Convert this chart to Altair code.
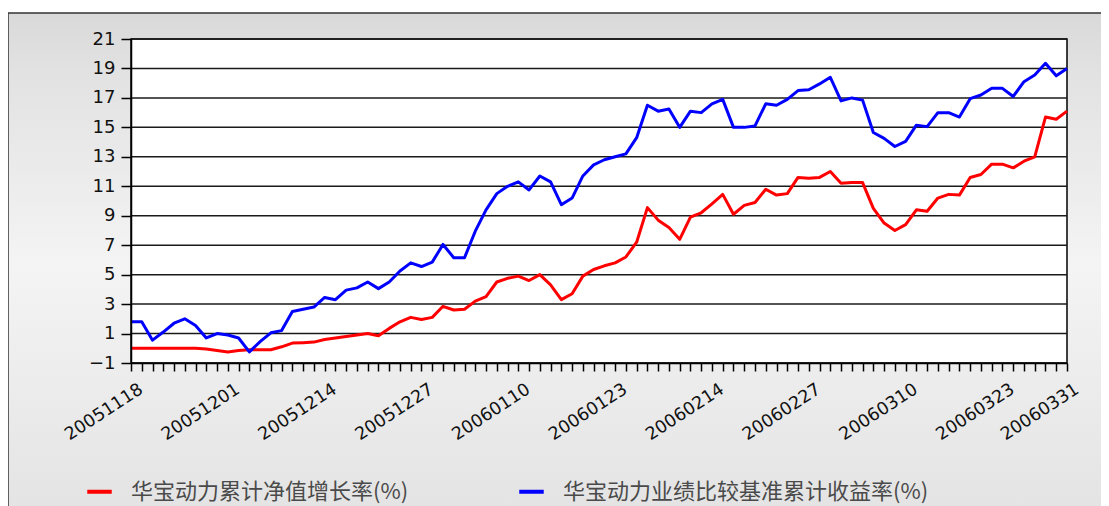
import altair as alt
import pandas as pd

dates = [
    "20051118", "20051121", "20051122", "20051123", "20051124", "20051125", "20051128", "20051129", "20051130",
    "20051201", "20051202", "20051205", "20051206", "20051207", "20051208", "20051209", "20051212", "20051213",
    "20051214", "20051215", "20051216", "20051219", "20051220", "20051221", "20051222", "20051223", "20051226",
    "20051227", "20051228", "20051229", "20051230", "20051231", "20060104", "20060105", "20060106", "20060109",
    "20060110", "20060111", "20060112", "20060113", "20060116", "20060117", "20060118", "20060119", "20060120",
    "20060123", "20060124", "20060125", "20060206", "20060207", "20060208", "20060209", "20060210", "20060213",
    "20060214", "20060215", "20060216", "20060217", "20060220", "20060221", "20060222", "20060223", "20060224",
    "20060227", "20060228", "20060301", "20060302", "20060303", "20060306", "20060307", "20060308", "20060309",
    "20060310", "20060313", "20060314", "20060315", "20060316", "20060317", "20060320", "20060321", "20060322",
    "20060323", "20060324", "20060327", "20060328", "20060329", "20060330", "20060331",
]

nav_growth = [
    0.0, 0.0, 0.0, 0.0, 0.0, 0.0, 0.0, -0.05, -0.15, -0.25, -0.15, -0.1, -0.1, -0.1,
    0.1, 0.35, 0.38, 0.42, 0.6, 0.7, 0.8, 0.9,
    1.0, 0.85, 1.35, 1.8, 2.1, 1.95, 2.1, 2.85, 2.6, 2.65, 3.2, 3.5, 4.5, 4.75, 4.9, 4.6,
    5.0, 4.3, 3.3, 3.7, 4.9, 5.35, 5.6, 5.8, 6.2, 7.2, 9.55, 8.7, 8.2, 7.4, 8.9, 9.2,
    9.8, 10.45, 9.1, 9.7, 9.9, 10.8, 10.4, 10.5, 11.6, 11.55, 11.6, 12.0, 11.2, 11.25,
    11.25, 9.5, 8.5, 8.0, 8.4, 9.4, 9.3, 10.2, 10.45, 10.4, 11.6, 11.8, 12.5, 12.5,
    12.25, 12.7, 13.0, 15.7, 15.55, 16.1,
]

benchmark = [
    1.8, 1.8, 0.55, 1.1, 1.7, 2.0, 1.55, 0.7, 1.0, 0.9, 0.7, -0.25, 0.45, 1.05,
    1.2, 2.5, 2.65, 2.8, 3.45, 3.3, 3.95, 4.1,
    4.5, 4.05, 4.5, 5.25, 5.8, 5.55, 5.85, 7.05, 6.15, 6.15, 7.95, 9.4, 10.5, 11.0, 11.3, 10.75,
    11.7, 11.3, 9.75, 10.2, 11.7, 12.45, 12.8, 13.0, 13.2, 14.3, 16.5, 16.1, 16.25, 15.0, 16.1, 16.0,
    16.6, 16.9, 15.0, 15.0, 15.1, 16.6, 16.5, 16.9, 17.5, 17.55, 17.95, 18.4, 16.8, 17.0,
    16.85, 14.65, 14.25, 13.7, 14.05, 15.15, 15.05, 16.0, 16.0, 15.7, 16.95, 17.2, 17.65, 17.65,
    17.1, 18.1, 18.55, 19.35, 18.5, 19.0,
]

series_names = ["华宝动力累计净值增长率(%)", "华宝动力业绩比较基准累计收益率(%)"]
series_colors = ["#ff0000", "#0000ff"]
y_ticks = list(range(-1, 22, 2))
shown_labels = ["20051118", "20051201", "20051214", "20051227", "20060110", "20060123",
                "20060214", "20060227", "20060310", "20060323", "20060331"]

rows = []
for d, a, b in zip(dates, nav_growth, benchmark):
    rows.append({"date": d, "series": series_names[0], "value": a})
    rows.append({"date": d, "series": series_names[1], "value": b})
df = pd.DataFrame(rows)
grid_df = pd.DataFrame({"value": y_ticks})
one = pd.DataFrame({"k": [0]})

W, H = 936, 324

yscale = alt.Scale(domain=[-1, 21], nice=False, zero=False)
xscale = alt.Scale(type="point", padding=0, domain=dates)

label_expr = "indexof([" + ",".join("'%s'" % s for s in shown_labels) + "], datum.value) >= 0 ? datum.value : ''"

yaxis = alt.Axis(values=y_ticks, title=None, grid=False, tickSize=10, tickColor="#000",
                 tickWidth=1.5, domainColor="#000", domainWidth=1.5, labelFont="DejaVu Sans",
                 labelFontSize=18, labelColor="#111", labelPadding=6, zindex=1)
xaxis = alt.Axis(title=None, grid=False, tickSize=8, tickWidth=1.5, tickColor="#000",
                 domainColor="#000", domainWidth=1.5, labelAngle=-33, labelAlign="right",
                 labelBaseline="top", labelOffset=5, labelPadding=9, labelExpr=label_expr,
                 labelFont="DejaVu Sans", labelFontSize=17.5, labelColor="#111", zindex=1)

gradient = alt.LinearGradient(
    gradient="linear",
    stops=[
        alt.GradientStop(color="#d9d9d9", offset=0),
        alt.GradientStop(color="#e2e2e2", offset=0.12),
        alt.GradientStop(color="#f4f4f4", offset=0.5),
        alt.GradientStop(color="#e3e3e3", offset=1),
    ],
    x1=0, x2=0, y1=0, y2=1,
)

bg = alt.Chart(one).mark_rect(color=gradient, stroke="#333333", strokeWidth=1.5).encode(
    x=alt.value(-123), x2=alt.value(990), y=alt.value(-26), y2=alt.value(480)
)
plot_bg = alt.Chart(one).mark_rect(color="#ffffff", stroke="#000000", strokeWidth=1.5).encode(
    x=alt.value(0), x2=alt.value(W), y=alt.value(0), y2=alt.value(H)
)
grid = alt.Chart(grid_df).mark_rule(color="#1a1a1a", strokeWidth=1.5).encode(
    y=alt.Y("value:Q", scale=yscale, axis=yaxis)
)
lines = alt.Chart(df).mark_line(strokeWidth=3, strokeJoin="round").encode(
    x=alt.X("date:O", scale=xscale, axis=xaxis),
    y=alt.Y("value:Q", scale=yscale, axis=yaxis),
    color=alt.Color(
        "series:N",
        scale=alt.Scale(domain=series_names, range=series_colors),
        legend=alt.Legend(
            title=None, orient="none", legendX=-46, legendY=438, direction="horizontal",
            symbolType="stroke", symbolStrokeWidth=4, symbolSize=600,
            labelFont="Noto Sans CJK SC", labelFontSize=22, labelColor="#4a4a4a",
            labelLimit=600, columnPadding=102, labelOffset=17, padding=0,
        ),
    ),
    order=alt.Order("date:O"),
)

chart = alt.layer(bg, plot_bg, grid, lines).properties(
    width=W, height=H,
    padding={"left": 123, "top": 31, "right": 34, "bottom": 143},
    autosize=alt.AutoSizeParams(type="none"),
    background="#ffffff",
).configure_view(stroke=None)

chart.save("out.html", embed_options={"renderer": "svg", "actions": False})
